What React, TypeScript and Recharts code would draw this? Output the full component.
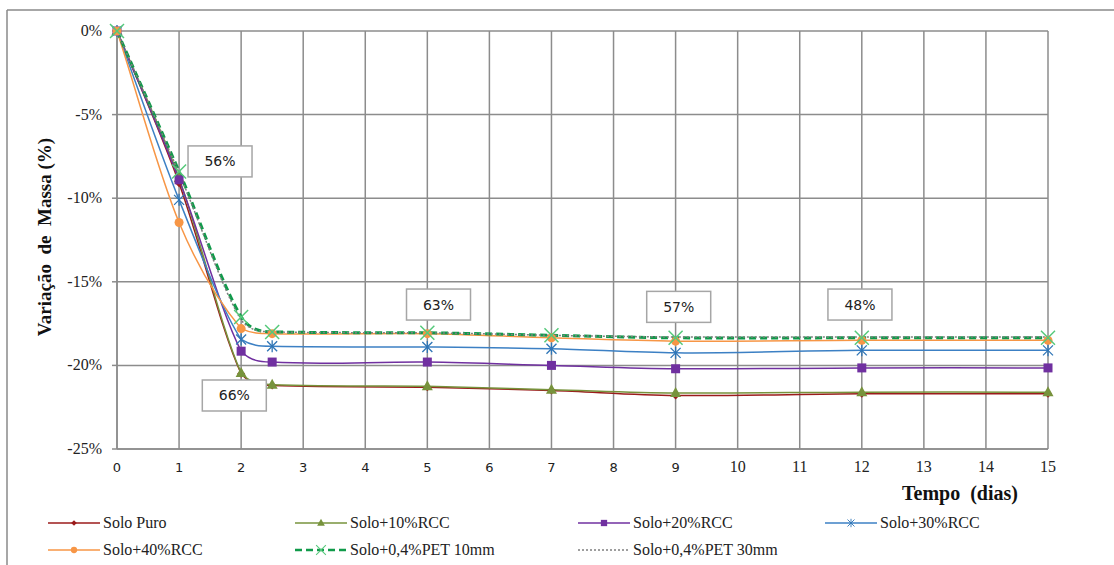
import React from 'react';
import { LineChart, Line, XAxis, YAxis, CartesianGrid, ReferenceDot } from 'recharts';

const days = [0, 1, 2, 2.5, 5, 7, 9, 12, 15];
const soloPuro = [0, -9.1, -20.5, -21.2, -21.3, -21.5, -21.8, -21.7, -21.7];
const rcc10 = [0, -8.8, -20.45, -21.15, -21.25, -21.45, -21.65, -21.6, -21.6];
const rcc20 = [0, -8.9, -19.15, -19.8, -19.8, -20.0, -20.2, -20.15, -20.15];
const rcc30 = [0, -10.1, -18.45, -18.85, -18.9, -19.0, -19.25, -19.1, -19.1];
const rcc40 = [0, -11.45, -17.8, -18.1, -18.1, -18.35, -18.55, -18.5, -18.5];
const pet10 = [0, -8.4, -17.1, -18.0, -18.05, -18.2, -18.35, -18.35, -18.35];
const pet30 = [0, -8.5, -17.3, -18.0, -18.05, -18.2, -18.3, -18.3, -18.3];

const xTicks = [0, 1, 2, 3, 4, 5, 6, 7, 8, 9, 10, 11, 12, 13, 14, 15];
const yTicks = [-25, -20, -15, -10, -5, 0];

const annotations = [
  { x: 1.66, y: -7.8, text: '56%' },
  { x: 5.18, y: -16.36, text: '63%' },
  { x: 9.05, y: -16.5, text: '57%' },
  { x: 11.97, y: -16.36, text: '48%' },
  { x: 1.89, y: -21.8, text: '66%' },
];

const data = days.map((d, i) => ({
  day: d,
  soloPuro: soloPuro[i],
  rcc10: rcc10[i],
  rcc20: rcc20[i],
  rcc30: rcc30[i],
  rcc40: rcc40[i],
  pet10: pet10[i],
  pet30: pet30[i],
}));

const SERIF = "'Liberation Serif', 'Times New Roman', Times, serif";
const SANS = "'DejaVu Sans', Verdana, sans-serif";

// Smooth curve (Hermite, central-difference tangents, limited to avoid overshoot)
function smoothCurve(context: any) {
  let xs: number[] = [];
  let ys: number[] = [];
  return {
    areaStart() {},
    areaEnd() {},
    lineStart() {
      xs = [];
      ys = [];
    },
    point(x: number, y: number) {
      xs.push(+x);
      ys.push(+y);
    },
    lineEnd() {
      const n = xs.length;
      if (n === 0) return;
      context.moveTo(xs[0], ys[0]);
      if (n === 1) return;
      const d: number[] = [];
      for (let i = 0; i < n - 1; i++) d.push((ys[i + 1] - ys[i]) / (xs[i + 1] - xs[i]));
      const m: number[] = [];
      for (let i = 0; i < n; i++) {
        if (i === 0) m.push(d[0]);
        else if (i === n - 1) m.push(d[n - 2]);
        else m.push((ys[i + 1] - ys[i - 1]) / (xs[i + 1] - xs[i - 1]));
      }
      for (let i = 0; i < n - 1; i++) {
        const h = xs[i + 1] - xs[i];
        let m0 = m[i];
        let m1 = m[i + 1];
        if (Math.abs(d[i]) > 1e-9) {
          const a = m0 / d[i];
          const b = m1 / d[i];
          const s = a * a + b * b;
          if (s > 9) {
            const t = 3 / Math.sqrt(s);
            m0 = t * a * d[i];
            m1 = t * b * d[i];
          }
        }
        context.bezierCurveTo(
          xs[i] + h / 3,
          ys[i] + (m0 * h) / 3,
          xs[i + 1] - h / 3,
          ys[i + 1] - (m1 * h) / 3,
          xs[i + 1],
          ys[i + 1]
        );
      }
    },
  };
}

type Shape = 'diamond' | 'triangle' | 'square' | 'asterisk' | 'circle' | 'x' | 'none';

const series: { key: string; name: string; color: string; markerColor: string; shape: Shape; width: number; dash?: string }[] = [
  { key: 'soloPuro', name: 'Solo Puro', color: '#9B1B1B', markerColor: '#9B1B1B', shape: 'diamond', width: 1.5 },
  { key: 'rcc10', name: 'Solo+10%RCC', color: '#77933C', markerColor: '#77933C', shape: 'triangle', width: 1.5 },
  { key: 'rcc20', name: 'Solo+20%RCC', color: '#7030A0', markerColor: '#7030A0', shape: 'square', width: 1.5 },
  { key: 'rcc30', name: 'Solo+30%RCC', color: '#3C80C4', markerColor: '#2E75B6', shape: 'asterisk', width: 1.5 },
  { key: 'rcc40', name: 'Solo+40%RCC', color: '#F79646', markerColor: '#F79646', shape: 'circle', width: 1.5 },
  { key: 'pet10', name: 'Solo+0,4%PET 10mm', color: '#109A4A', markerColor: '#55C97A', shape: 'x', width: 3, dash: '7 4' },
  { key: 'pet30', name: 'Solo+0,4%PET 30mm', color: '#7F7F7F', markerColor: '#7F7F7F', shape: 'none', width: 1.5, dash: '2 2' },
];

function Marker({ shape, cx, cy, color }: { shape: Shape; cx: number; cy: number; color: string }) {
  switch (shape) {
    case 'diamond':
      return <path d={`M${cx},${cy - 4}L${cx + 4},${cy}L${cx},${cy + 4}L${cx - 4},${cy}Z`} fill={color} />;
    case 'triangle':
      return <path d={`M${cx},${cy - 6}L${cx + 5.5},${cy + 4}L${cx - 5.5},${cy + 4}Z`} fill={color} />;
    case 'square':
      return <rect x={cx - 4.5} y={cy - 4.5} width={9} height={9} fill={color} />;
    case 'asterisk':
      return (
        <g stroke={color} strokeWidth={1.3}>
          <line x1={cx - 5} y1={cy - 5} x2={cx + 5} y2={cy + 5} />
          <line x1={cx - 5} y1={cy + 5} x2={cx + 5} y2={cy - 5} />
          <line x1={cx} y1={cy - 6} x2={cx} y2={cy + 6} />
        </g>
      );
    case 'circle':
      return <circle cx={cx} cy={cy} r={4.5} fill={color} />;
    case 'x':
      return (
        <g stroke={color} strokeWidth={1.5}>
          <line x1={cx - 7} y1={cy - 7} x2={cx + 7} y2={cy + 7} />
          <line x1={cx - 7} y1={cy + 7} x2={cx + 7} y2={cy - 7} />
        </g>
      );
    default:
      return null;
  }
}

const makeDot = (shape: Shape, color: string) => (props: any) => {
  const { cx, cy, index } = props;
  if (cx == null || cy == null) return <g key={`d${index}`} />;
  return (
    <g key={`d${index}`}>
      <Marker shape={shape} cx={cx} cy={cy} color={color} />
    </g>
  );
};

const XTick = (props: any) => {
  const { x, y, payload } = props;
  const v = payload.value;
  const serif = v >= 10;
  return (
    <text
      x={x}
      y={y + 15}
      textAnchor="middle"
      fill="#222"
      style={{ fontFamily: serif ? SERIF : SANS, fontSize: serif ? 16 : 13 }}
    >
      {v}
    </text>
  );
};

const YTick = (props: any) => {
  const { x, y, payload } = props;
  return (
    <text x={x - 8} y={y + 5} textAnchor="end" fill="#222" style={{ fontFamily: SERIF, fontSize: 16 }}>
      {`${payload.value}%`}
    </text>
  );
};

const AnnotationBox = (text: string) => (props: any) => {
  const { cx, cy } = props;
  if (cx == null || cy == null) return <g />;
  return (
    <g>
      <rect x={cx - 32} y={cy - 15.5} width={64} height={31} fill="#fff" stroke="#A6A6A6" strokeWidth={1.5} />
      <text x={cx} y={cy + 5} textAnchor="middle" fill="#222" style={{ fontFamily: SANS, fontSize: 14 }}>
        {text}
      </text>
    </g>
  );
};

const legendPositions = [
  { x: 48, y: 523 },
  { x: 295, y: 523 },
  { x: 578, y: 523 },
  { x: 825, y: 523 },
  { x: 48, y: 550 },
  { x: 295, y: 550 },
  { x: 578, y: 550 },
];

export default function App() {
  return (
    <div style={{ position: 'absolute', left: 0, top: 0, width: 1114, height: 565, background: '#fff', overflow: 'hidden' }}>
      <div style={{ position: 'absolute', left: 0, top: 0 }}>
        <LineChart width={1114} height={565} data={data} margin={{ top: 31, right: 66, bottom: 86, left: 0 }}>
          <CartesianGrid stroke="#8C8C8C" strokeWidth={1.5} />
          <XAxis
            dataKey="day"
            type="number"
            domain={[0, 15]}
            ticks={xTicks}
            interval={0}
            height={30}
            tick={<XTick />}
            tickLine={false}
            axisLine={{ stroke: '#8C8C8C', strokeWidth: 1.5 }}
          />
          <YAxis
            type="number"
            domain={[-25, 0]}
            ticks={yTicks}
            interval={0}
            width={117}
            tick={<YTick />}
            tickSize={5}
            tickLine={{ stroke: '#8C8C8C', strokeWidth: 1.5 }}
            axisLine={{ stroke: '#8C8C8C', strokeWidth: 1.5 }}
          />
          {series.map((s) => (
            <Line
              key={s.key}
              dataKey={s.key}
              name={s.name}
              type={smoothCurve as any}
              stroke={s.color}
              strokeWidth={s.width}
              strokeDasharray={s.dash}
              dot={s.shape === 'none' ? false : makeDot(s.shape, s.markerColor)}
              activeDot={false}
              isAnimationActive={false}
            />
          ))}
          {annotations.map((a, i) => (
            <ReferenceDot key={i} x={a.x} y={a.y} r={0} shape={AnnotationBox(a.text)} ifOverflow="visible" />
          ))}
        </LineChart>
      </div>
      <svg width={1114} height={565} style={{ position: 'absolute', left: 0, top: 0, pointerEvents: 'none' }}>
        <line x1={7} y1={10} x2={1114} y2={10} stroke="#8A8A8A" strokeWidth={1.5} />
        <line x1={7} y1={10} x2={7} y2={565} stroke="#8A8A8A" strokeWidth={1.5} />
        <text
          x={0}
          y={0}
          transform="translate(51,237) rotate(-90)"
          textAnchor="middle"
          fill="#111"
          style={{ fontFamily: SERIF, fontSize: 19, fontWeight: 'bold', whiteSpace: 'pre' }}
        >
          {'Variação  de  Massa (%)'}
        </text>
        <text
          x={960}
          y={500}
          textAnchor="middle"
          fill="#111"
          style={{ fontFamily: SERIF, fontSize: 20, fontWeight: 'bold', whiteSpace: 'pre' }}
        >
          {'Tempo  (dias)'}
        </text>
        {series.map((s, i) => {
          const p = legendPositions[i];
          return (
            <g key={s.key}>
              <line x1={p.x} y1={p.y} x2={p.x + 52} y2={p.y} stroke={s.color} strokeWidth={s.width === 3 ? 2.5 : 1.5} strokeDasharray={s.dash} />
              {s.shape !== 'none' && (
                <g transform={`translate(${p.x + 26},${p.y}) scale(0.7) translate(${-(p.x + 26)},${-p.y})`}>
                  <Marker shape={s.shape} cx={p.x + 26} cy={p.y} color={s.markerColor} />
                </g>
              )}
              <text x={p.x + 55} y={p.y + 5} fill="#222" style={{ fontFamily: SERIF, fontSize: 16 }}>
                {s.name}
              </text>
            </g>
          );
        })}
      </svg>
    </div>
  );
}
